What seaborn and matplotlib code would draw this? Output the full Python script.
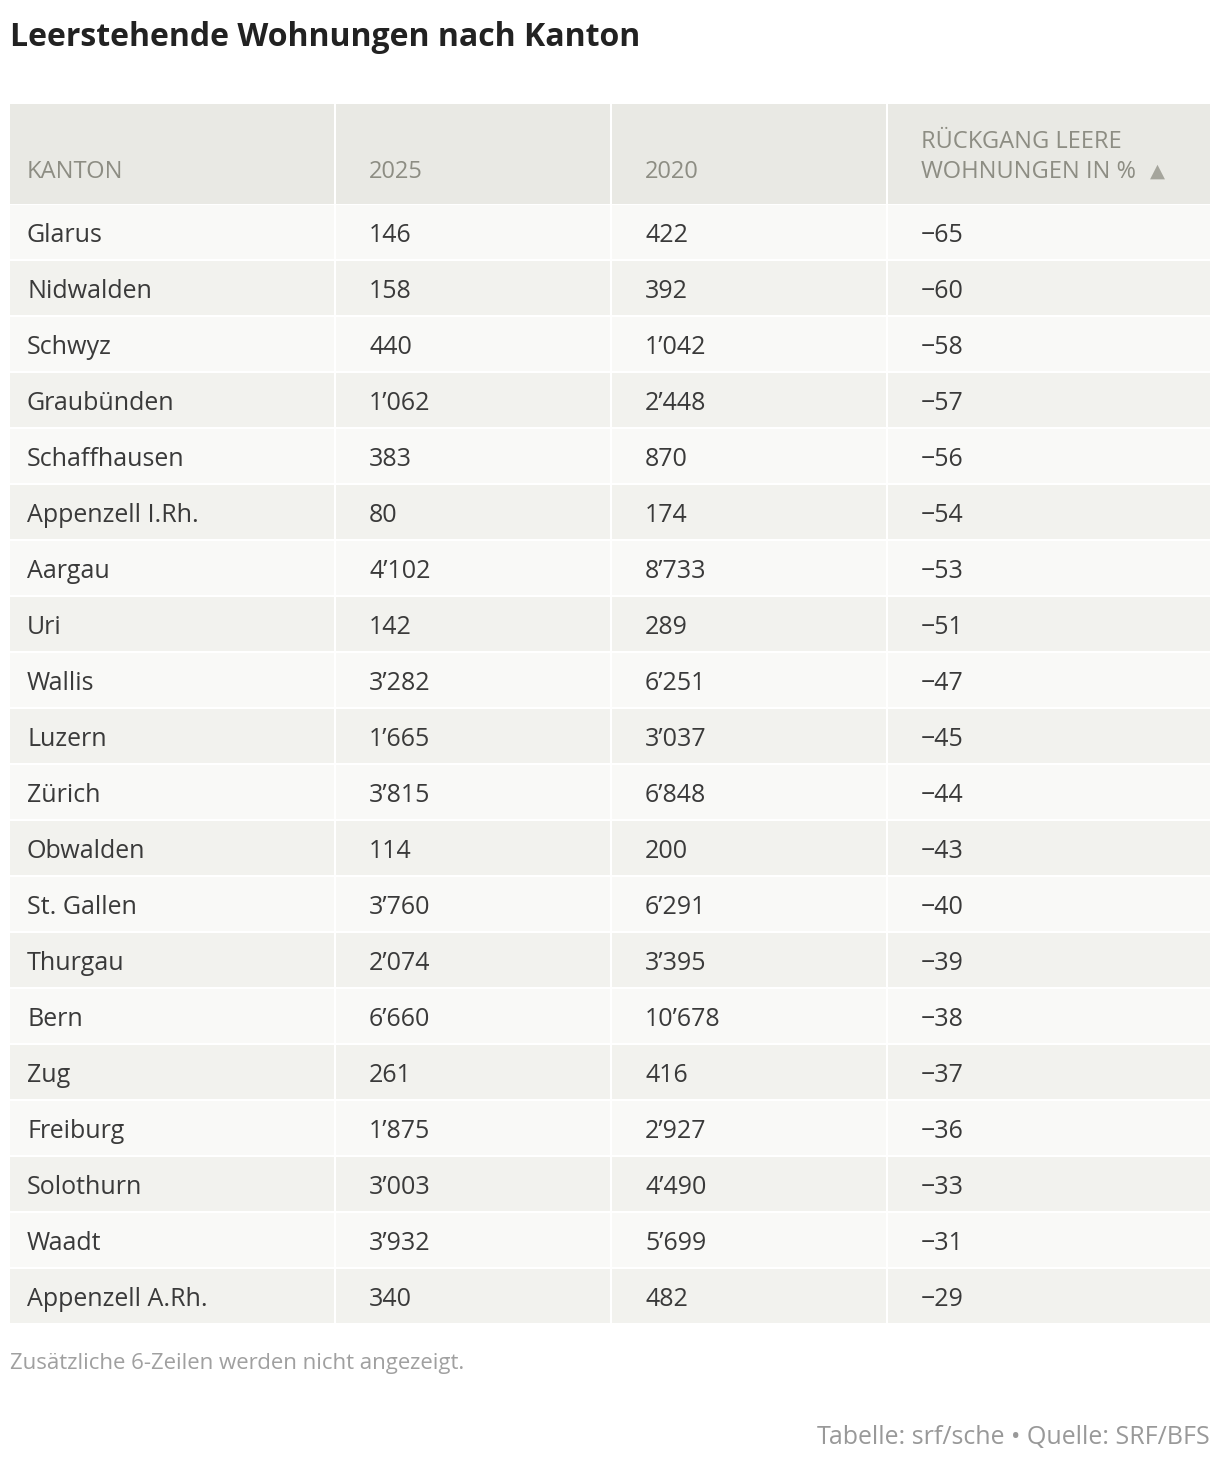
import matplotlib
matplotlib.use("Agg")
import matplotlib.pyplot as plt
import seaborn as sns

kantone = ["Glarus","Nidwalden","Schwyz","Graubünden","Schaffhausen","Appenzell I.Rh.","Aargau","Uri",
           "Wallis","Luzern","Zürich","Obwalden","St. Gallen","Thurgau","Bern","Zug","Freiburg",
           "Solothurn","Waadt","Appenzell A.Rh."]
y2025 = ["146","158","440","1’062","383","80","4’102","142","3’282","1’665","3’815","114","3’760",
         "2’074","6’660","261","1’875","3’003","3’932","340"]
y2020 = ["422","392","1’042","2’448","870","174","8’733","289","6’251","3’037","6’848","200","6’291",
         "3’395","10’678","416","2’927","4’490","5’699","482"]
rueckgang = ["−65","−60","−58","−57","−56","−54","−53","−51","−47","−45","−44","−43","−40","−39",
             "−38","−37","−36","−33","−31","−29"]
headers = ["KANTON", "2025", "2020", "RÜCKGANG LEERE\nWOHNUNGEN IN %"]

sns.set_theme(style="white")
plt.rcParams["font.family"] = "Open Sans"
W, H = 1220, 1468
fig = plt.figure(figsize=(12.2, 14.68), dpi=100)
ax = fig.add_axes([0, 0, 1, 1])
ax.set_xlim(0, W); ax.set_ylim(H, 0); ax.axis("off")

col_left = [10, 336, 612, 888]
col_right = [334, 610, 886, 1210]
pad = [17, 33, 33, 33]
top, hh, rh = 104, 100, 56

for l, r in zip(col_left, col_right):
    ax.barh(top + hh/2, r - l, left=l, height=hh, color="#e9e9e4", linewidth=0)
for i, (l, r) in enumerate(zip(col_left, col_right)):
    ax.text(l + pad[i], 184, headers[i], fontsize=17, color="#8d8d83", va="bottom", ha="left",
            linespacing=1.35)
ax.text(1150, 171, "▲", fontsize=14, color="#a5a59c", va="center", ha="left", family="DejaVu Sans")

cols = [kantone, y2025, y2020, rueckgang]
for i in range(len(kantone)):
    yc = top + hh + rh*i + rh/2
    color = "#f9f9f7" if i % 2 == 0 else "#f2f2ee"
    for j, (l, r) in enumerate(zip(col_left, col_right)):
        ax.barh(yc, r - l, left=l, height=rh - 2, color=color, linewidth=0)
        ax.text(l + pad[j], yc + 3, cols[j][i], fontsize=18, color="#3a3a3a", va="center", ha="left")

ax.text(10, 38, "Leerstehende Wohnungen nach Kanton", fontsize=23, fontweight="bold",
        color="#222222", va="center")
ax.text(10, 1363, "Zusätzliche 6-Zeilen werden nicht angezeigt.", fontsize=16, color="#a0a0a0", va="center")
ax.text(1210, 1438, "Tabelle: srf/sche • Quelle: SRF/BFS", fontsize=18, color="#999999",
        va="center", ha="right")

fig.savefig("out.png", dpi=100, facecolor="white")
